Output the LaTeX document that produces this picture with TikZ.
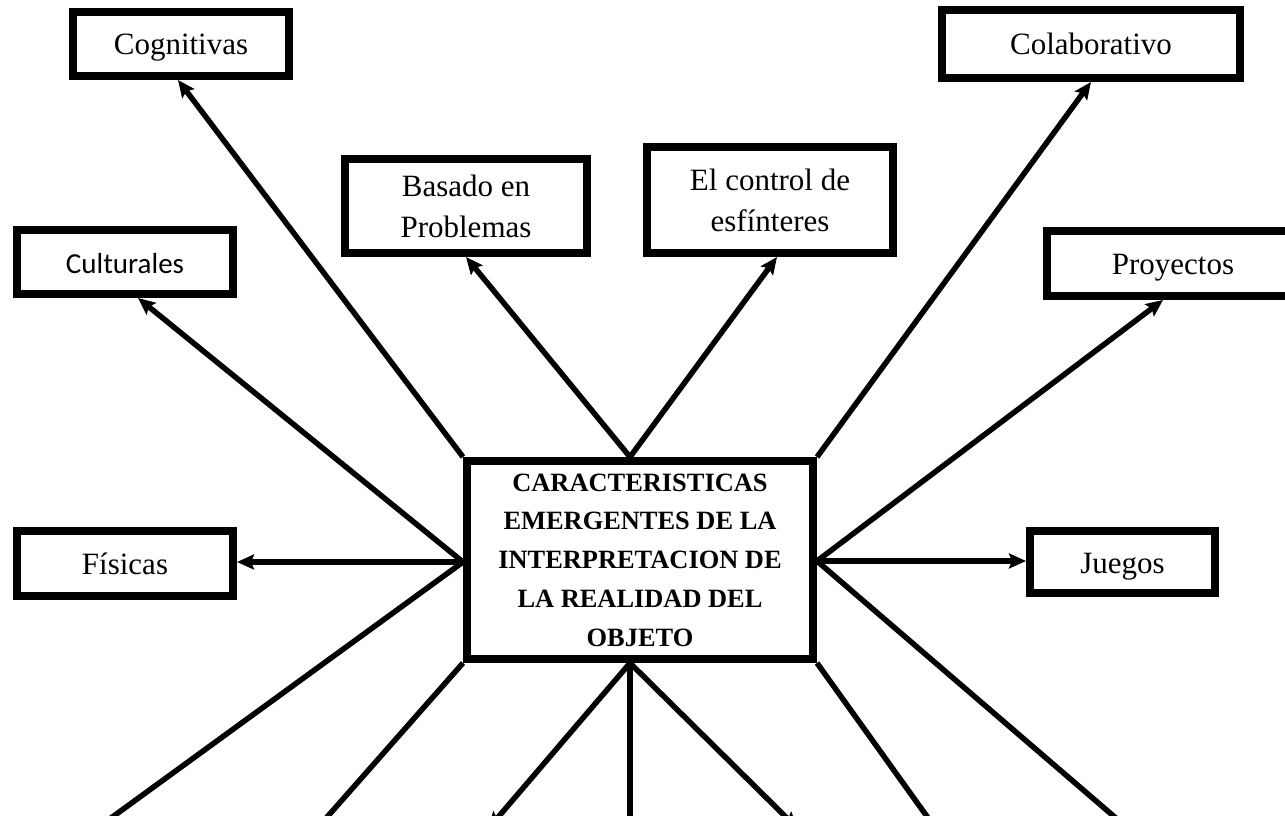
\documentclass[tikz,border=0pt]{standalone}
\usepackage{fontspec}
\setmainfont{Liberation Serif}
\newfontfamily\calibrifont{Carlito}
\usetikzlibrary{arrows.meta}
\begin{document}
\begin{tikzpicture}[x=1pt,y=-1pt,
  box/.style={draw,line width=8pt,fill=white,inner sep=0pt,
    font=\fontsize{31}{36}\selectfont},
  oneline/.style={box,text height=26pt,text depth=4pt},
  twoline/.style={box,align=center,font=\fontsize{31}{41}\selectfont},
  link/.style={line width=5.5pt,-{Stealth[length=17pt,width=15pt,inset=3pt]}},
]
\useasboundingbox (0,0) rectangle (1285,816);
\clip (0,0) rectangle (1285,816);

% nodes
\node[box,minimum width=346pt,minimum height=198pt,align=center,
  font=\fontsize{26.4}{38.7}\selectfont\bfseries] (c) at (640,560)
  {CARACTERISTICAS\\EMERGENTES DE LA\\INTERPRETACION DE\\LA REALIDAD DEL\\OBJETO};
\node[oneline,minimum width=216pt,minimum height=64pt] (cog) at (181,44) {Cognitivas};
\node[oneline,minimum width=298pt,minimum height=68pt] (col) at (1091,44) {Colaborativo};
\node[twoline,minimum width=242pt,minimum height=94pt] (bas) at (466,206) {\rule{0pt}{0pt}Basado en\\Problemas};
\node[twoline,minimum width=246pt,minimum height=106pt] (ctl) at (770,200) {El control de\\esfínteres};
\node[oneline,minimum width=216pt,minimum height=64pt,
  font=\calibrifont\fontsize{29}{34}\selectfont] (cul) at (125,262) {Culturales};
\node[oneline,minimum width=252pt,minimum height=65pt] (pro) at (1173,263.5) {Proyectos};
\node[oneline,minimum width=216pt,minimum height=65pt] (fis) at (125,563.5) {Físicas};
\node[oneline,minimum width=185pt,minimum height=62pt] (jue) at (1122.5,562) {Juegos};

% connection points on the central box
\coordinate (cn) at ([xshift=-10pt]c.north);
\coordinate (cs) at ([xshift=-10pt]c.south);
\coordinate (cw) at ([yshift=-2pt]c.west);
\coordinate (ce) at ([yshift=-1pt]c.east);

% free ends below the picture
\coordinate (b1) at (67,850);
\coordinate (b2) at (298,850);
\coordinate (b3) at (488,829);
\coordinate (b4) at (630,850);
\coordinate (b5) at (798,829);
\coordinate (b6) at (951,850);
\coordinate (b7) at (1153,850);

% upper connectors
\draw[link] (c.north west) -- ([xshift=-3pt]cog.south);
\draw[link] (cn) -- (bas.south);
\draw[link] (cn) -- ([xshift=7pt]ctl.south);
\draw[link] (c.north east) -- (col.south);
\draw[link] (cw) -- ([xshift=13pt]cul.south);
\draw[link] (ce) -- ([xshift=-10pt]pro.south);
\draw[link] (cw) -- (cw -| fis.east);
\draw[link] (ce) -- (ce -| jue.west);

% lower connectors
\draw[link] (cw) -- (b1);
\draw[link] (c.south west) -- (b2);
\draw[link] (cs) -- (b3);
\draw[link] (cs) -- (b4);
\draw[link] (cs) -- (b5);
\draw[link] (c.south east) -- (b6);
\draw[link] (ce) -- (b7);
\end{tikzpicture}
\end{document}
